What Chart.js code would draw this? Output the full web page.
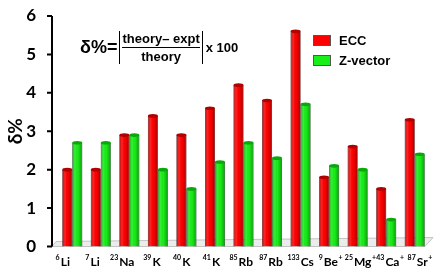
<!DOCTYPE html>
<html>
<head>
<meta charset="utf-8">
<script src="https://cdn.jsdelivr.net/npm/chart.js@4"></script>
<style>
  html, body { margin: 0; padding: 0; background: #fff; }
  #wrap { position: relative; width: 446px; height: 273px; }
  #formula {
    position: absolute; left: 80px; top: 31px;
    display: flex; align-items: center;
    font-family: "Liberation Sans", Arial, sans-serif; font-weight: bold; color: #000;
  }
  #formula .lhs { font-size: 18px; margin-right: 2px; }
  #formula .abs { border-left: 1.5px solid #000; border-right: 1.5px solid #000; padding: 0 2px; display: flex; flex-direction: column; align-items: center; font-size: 13px; line-height: 14px; }
  #formula .num { border-bottom: 1.5px solid #000; padding: 1px 0 1px; }
  #formula .den { padding: 2px 0 0; }
  #formula .mul { font-size: 13px; margin-left: 3px; }
</style>
</head>
<body>
<div id="wrap">
  <canvas id="chart" width="446" height="273"></canvas>
  <div id="formula">
    <span class="lhs">δ%=</span>
    <span class="abs"><span class="num">theory– expt</span><span class="den">theory</span></span>
    <span class="mul">x 100</span>
  </div>
</div>
<script>
// isotopes on the x axis
const masses  = ['6', '7', '23', '39', '40', '41', '85', '87', '133', '9', '25', '43', '87'];
const symbols = ['Li', 'Li', 'Na', 'K', 'K', 'K', 'Rb', 'Rb', 'Cs', 'Be', 'Mg', 'Ca', 'Sr'];
const charges = ['', '', '', '', '', '', '', '', '', '+', '+', '+', '+'];
const labels = masses.map((m, i) => m + symbols[i] + charges[i]);

// delta % values
const ecc     = [2.0, 2.0, 2.9, 3.4, 2.9, 3.6, 4.2, 3.8, 5.6, 1.8, 2.6, 1.5, 3.3];
const zvector = [2.7, 2.7, 2.9, 2.0, 1.5, 2.2, 2.7, 2.3, 3.7, 2.1, 2.0, 0.7, 2.4];

const yTicks = [0, 1, 2, 3, 4, 5, 6];

const tickFont = '"Lato", "Liberation Sans", sans-serif';

// floor, axis line, cylinder shading, labels, legend
const look3d = {
  id: 'look3d',
  beforeDatasetsDraw(chart) {
    const { ctx, chartArea: a } = chart;
    ctx.save();
    ctx.beginPath();
    ctx.moveTo(a.left - 6, a.bottom);
    ctx.lineTo(a.left - 2, a.bottom - 5);
    ctx.lineTo(a.right + 4, a.bottom - 9);
    ctx.lineTo(a.right - 4, a.bottom);
    ctx.closePath();
    ctx.fillStyle = '#ececec';
    ctx.fill();
    ctx.strokeStyle = '#c4c4c4';
    ctx.lineWidth = 1;
    ctx.stroke();
    ctx.restore();
  },
  afterDatasetsDraw(chart) {
    const { ctx } = chart;
    chart.data.datasets.forEach((ds, di) => {
      chart.getDatasetMeta(di).data.forEach(bar => {
        const w = bar.width, l = bar.x - w / 2, r = bar.x + w / 2;
        const g = ctx.createLinearGradient(l, 0, r, 0);
        g.addColorStop(0, 'rgba(0,0,0,0.35)');
        g.addColorStop(0.3, 'rgba(255,255,255,0.12)');
        g.addColorStop(0.55, 'rgba(0,0,0,0)');
        g.addColorStop(1, 'rgba(0,0,0,0.35)');
        ctx.save();
        ctx.fillStyle = g;
        ctx.fillRect(l, bar.y, w, bar.base - bar.y);
        ctx.beginPath();
        ctx.ellipse(bar.x, bar.y, w / 2, 1.8, 0, 0, Math.PI * 2);
        ctx.fillStyle = ds.capColor;
        ctx.fill();
        ctx.restore();
      });
    });
  },
  afterDraw(chart) {
    const { ctx, chartArea: a, scales } = chart;
    const y = scales.y, x = scales.x;
    ctx.save();
    // y axis line with outside ticks
    const ax = a.left - 6;
    ctx.strokeStyle = '#000';
    ctx.lineWidth = 2;
    ctx.beginPath();
    ctx.moveTo(ax, y.getPixelForValue(6));
    ctx.lineTo(ax, y.getPixelForValue(0));
    yTicks.forEach(v => {
      const py = y.getPixelForValue(v);
      ctx.moveTo(ax - 5, py);
      ctx.lineTo(ax, py);
    });
    ctx.stroke();

    // x labels with superscript mass number and charge
    ctx.fillStyle = '#000';
    ctx.textBaseline = 'alphabetic';
    const base = a.bottom + 19;
    const sup = 'bold 7px ' + tickFont, main = 'bold 12px ' + tickFont;
    labels.forEach((lab, i) => {
      ctx.font = sup;  const w1 = ctx.measureText(masses[i]).width;
      const w3 = ctx.measureText(charges[i]).width;
      ctx.font = main; const w2 = ctx.measureText(symbols[i]).width;
      const cx = x.getPixelForValue(i) - 10 + 1.2 * i;
      let px = cx - (w1 + w2 + w3) / 2;
      ctx.font = sup;  ctx.fillText(masses[i], px, base - 6);
      px += w1 + 1;
      ctx.font = main; ctx.fillText(symbols[i], px, base);
      px += w2 + 0.5;
      ctx.font = sup;  ctx.fillText(charges[i], px, base - 6);
    });

    // legend
    ctx.font = 'bold 13px "Liberation Sans", Arial, sans-serif';
    ctx.textBaseline = 'middle';
    chart.data.datasets.forEach((ds, di) => {
      const ly = 35 + di * 20;
      ctx.fillStyle = ds.backgroundColor;
      ctx.fillRect(313, ly, 18, 11);
      ctx.strokeStyle = '#555';
      ctx.lineWidth = 1;
      ctx.strokeRect(313.5, ly + 0.5, 17, 10);
      ctx.fillStyle = '#000';
      ctx.fillText(ds.label, 339, ly + 6);
    });
    ctx.restore();
  }
};

new Chart(document.getElementById('chart'), {
  type: 'bar',
  data: {
    labels: labels,
    datasets: [
      { label: 'ECC', data: ecc, backgroundColor: '#ff0000', capColor: '#b00000',
        borderColor: '#8a0000', borderWidth: 0.6 },
      { label: 'Z-vector', data: zvector, backgroundColor: '#18ee18', capColor: '#0aa80a',
        borderColor: '#0a7a0a', borderWidth: 0.6 }
    ]
  },
  options: {
    responsive: false,
    animation: false,
    layout: { padding: { top: 16, right: 17, left: 0, bottom: 0 } },
    datasets: { bar: { categoryPercentage: 0.7, barPercentage: 1.0 } },
    plugins: { legend: { display: false }, tooltip: { enabled: false } },
    scales: {
      x: {
        grid: { display: false, drawTicks: false },
        border: { display: false },
        ticks: { display: false },
        afterFit: s => { s.height = 26.5; }
      },
      y: {
        min: 0, max: 6,
        afterBuildTicks: s => { s.ticks = yTicks.map(v => ({ value: v })); },
        grid: { display: false, drawTicks: false },
        border: { display: false },
        ticks: { padding: 22, color: '#000', font: { family: tickFont, size: 17, weight: 'bold' } },
        title: { display: true, text: 'δ%', color: '#000', padding: { top: 4, bottom: 0 },
                 font: { family: tickFont, size: 19, weight: 'bold' } },
        afterFit: s => { s.width = 58; s.paddingTop = 0; s.paddingBottom = 0; }
      }
    }
  },
  plugins: [look3d]
});
</script>
</body>
</html>
